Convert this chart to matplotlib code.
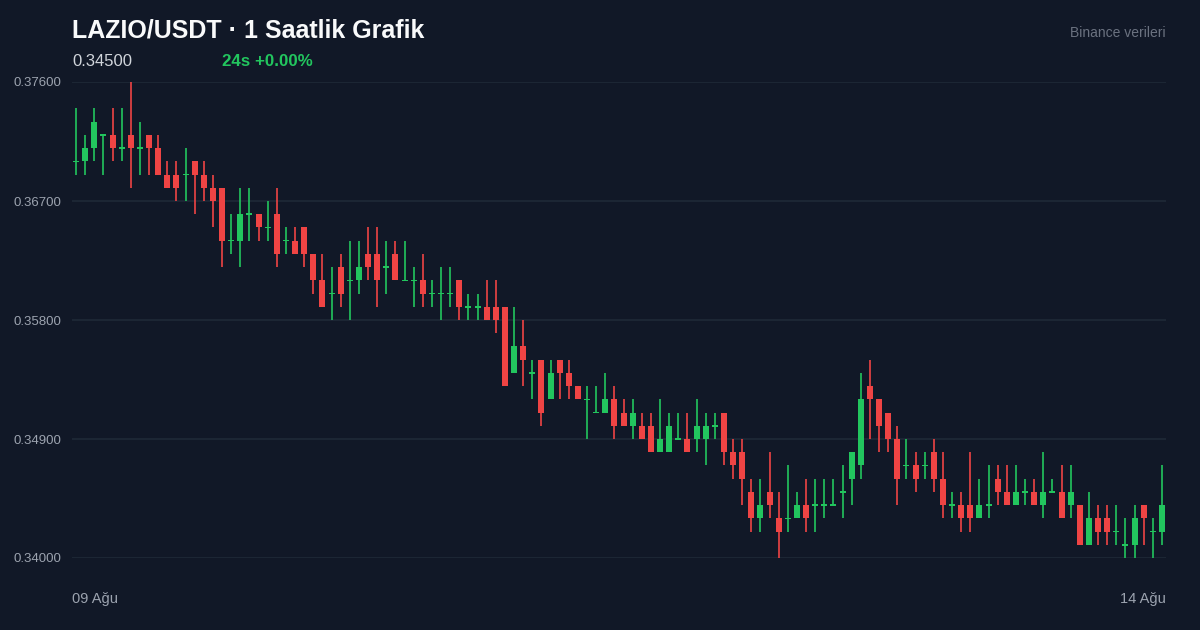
import numpy as np
import matplotlib.pyplot as plt

# Hourly OHLC candles, LAZIO/USDT
opens = [0.370, 0.370, 0.371, 0.372, 0.372, 0.371, 0.372, 0.371, 0.372, 0.371,
         0.369, 0.369, 0.369, 0.370, 0.369, 0.368, 0.368, 0.364, 0.364, 0.366,
         0.366, 0.365, 0.366, 0.364, 0.364, 0.365, 0.363, 0.361, 0.360, 0.362,
         0.361, 0.361, 0.363, 0.363, 0.362, 0.363, 0.361, 0.361, 0.361, 0.360,
         0.360, 0.360, 0.361, 0.359, 0.359, 0.359, 0.359, 0.359, 0.354, 0.356,
         0.354, 0.355, 0.352, 0.355, 0.354, 0.353, 0.352, 0.351, 0.351, 0.352,
         0.351, 0.350, 0.350, 0.350, 0.348, 0.348, 0.349, 0.349, 0.349, 0.349,
         0.350, 0.351, 0.348, 0.348, 0.345, 0.343, 0.345, 0.343, 0.343, 0.343,
         0.344, 0.344, 0.344, 0.344, 0.345, 0.346, 0.347, 0.353, 0.352, 0.351,
         0.349, 0.347, 0.347, 0.347, 0.348, 0.346, 0.344, 0.344, 0.344, 0.343,
         0.344, 0.346, 0.345, 0.344, 0.345, 0.345, 0.344, 0.345, 0.345, 0.344,
         0.344, 0.341, 0.343, 0.343, 0.342, 0.341, 0.341, 0.344, 0.342, 0.342]
highs = [0.374, 0.372, 0.374, 0.372, 0.374, 0.374, 0.376, 0.373, 0.372, 0.372,
         0.370, 0.370, 0.371, 0.370, 0.370, 0.369, 0.368, 0.366, 0.368, 0.368,
         0.366, 0.367, 0.368, 0.365, 0.365, 0.365, 0.363, 0.363, 0.362, 0.363,
         0.364, 0.364, 0.365, 0.365, 0.364, 0.364, 0.364, 0.362, 0.363, 0.361,
         0.362, 0.362, 0.361, 0.360, 0.360, 0.361, 0.361, 0.359, 0.359, 0.358,
         0.355, 0.355, 0.355, 0.355, 0.355, 0.353, 0.353, 0.353, 0.354, 0.353,
         0.352, 0.352, 0.351, 0.351, 0.352, 0.351, 0.351, 0.351, 0.352, 0.351,
         0.351, 0.351, 0.349, 0.349, 0.346, 0.346, 0.348, 0.345, 0.347, 0.345,
         0.346, 0.346, 0.346, 0.346, 0.347, 0.348, 0.354, 0.355, 0.352, 0.351,
         0.350, 0.349, 0.348, 0.348, 0.349, 0.348, 0.345, 0.345, 0.348, 0.346,
         0.347, 0.347, 0.347, 0.347, 0.346, 0.346, 0.348, 0.346, 0.347, 0.347,
         0.344, 0.345, 0.344, 0.344, 0.344, 0.343, 0.344, 0.344, 0.343, 0.347]
lows = [0.369, 0.369, 0.370, 0.369, 0.370, 0.370, 0.368, 0.369, 0.369, 0.369,
        0.368, 0.367, 0.367, 0.366, 0.367, 0.365, 0.362, 0.363, 0.362, 0.364,
        0.364, 0.364, 0.362, 0.363, 0.363, 0.362, 0.360, 0.359, 0.358, 0.359,
        0.358, 0.360, 0.361, 0.359, 0.360, 0.361, 0.361, 0.359, 0.359, 0.359,
        0.358, 0.359, 0.358, 0.358, 0.358, 0.358, 0.357, 0.353, 0.354, 0.353,
        0.352, 0.350, 0.352, 0.352, 0.352, 0.352, 0.349, 0.351, 0.351, 0.349,
        0.350, 0.349, 0.349, 0.348, 0.348, 0.348, 0.349, 0.348, 0.348, 0.347,
        0.349, 0.347, 0.346, 0.344, 0.342, 0.342, 0.343, 0.340, 0.342, 0.343,
        0.342, 0.342, 0.343, 0.344, 0.343, 0.344, 0.346, 0.349, 0.348, 0.348,
        0.344, 0.346, 0.345, 0.346, 0.345, 0.343, 0.343, 0.342, 0.342, 0.343,
        0.343, 0.344, 0.344, 0.344, 0.344, 0.344, 0.343, 0.345, 0.343, 0.343,
        0.341, 0.341, 0.341, 0.341, 0.341, 0.340, 0.340, 0.341, 0.340, 0.341]
closes = [0.370, 0.371, 0.373, 0.372, 0.371, 0.371, 0.371, 0.371, 0.371, 0.369,
          0.368, 0.368, 0.369, 0.369, 0.368, 0.367, 0.364, 0.364, 0.366, 0.366,
          0.365, 0.365, 0.363, 0.364, 0.363, 0.363, 0.361, 0.359, 0.360, 0.360,
          0.361, 0.362, 0.362, 0.361, 0.362, 0.361, 0.361, 0.361, 0.360, 0.360,
          0.360, 0.360, 0.359, 0.359, 0.359, 0.358, 0.358, 0.353, 0.356, 0.355,
          0.354, 0.351, 0.354, 0.354, 0.353, 0.352, 0.352, 0.351, 0.352, 0.350,
          0.350, 0.351, 0.349, 0.348, 0.349, 0.350, 0.349, 0.348, 0.350, 0.350,
          0.350, 0.348, 0.347, 0.346, 0.343, 0.344, 0.344, 0.342, 0.343, 0.344,
          0.343, 0.344, 0.344, 0.344, 0.345, 0.348, 0.352, 0.352, 0.350, 0.349,
          0.346, 0.347, 0.346, 0.347, 0.346, 0.344, 0.344, 0.343, 0.343, 0.344,
          0.344, 0.345, 0.344, 0.345, 0.345, 0.344, 0.345, 0.345, 0.343, 0.345,
          0.341, 0.343, 0.342, 0.342, 0.342, 0.341, 0.343, 0.343, 0.342, 0.344]

y_ticks = [0.340, 0.349, 0.358, 0.367, 0.376]
x_labels = ["09 Ağu", "14 Ağu"]

BG = "#111827"
GREEN = "#22c55e"
RED = "#ef4444"
GRID = "#1f2937"

plt.rcParams['font.family'] = ['Liberation Sans', 'DejaVu Sans']

W, H = 1200, 630
fig = plt.figure(figsize=(W / 100, H / 100), dpi=100, facecolor=BG)
ax = fig.add_axes([72 / W, (H - 558) / H, (1166 - 72) / W, (558 - 82) / H])
ax.set_facecolor(BG)

o = np.array(opens)
h = np.array(highs)
l = np.array(lows)
c = np.array(closes)
x = np.arange(len(o))
up = c >= o
colors = np.where(up, GREEN, RED)

# minimum body height so flat candles still show as a small bar
min_body = 0.00012
body_bottom = np.minimum(o, c)
body_height = np.abs(c - o)
flat = body_height < 1e-9
body_bottom = np.where(flat, o - min_body / 2, body_bottom)
body_height = np.where(flat, min_body, body_height)

ax.vlines(x, l, h, colors=colors, linewidth=1.2, zorder=2, clip_on=False)
ax.bar(x, body_height, bottom=body_bottom, width=0.66, color=colors,
       linewidth=0, zorder=3, clip_on=False)

ax.set_xlim(-0.45, len(o) - 0.55)
ax.set_ylim(0.340, 0.376)
ax.set_yticks(y_ticks)
ax.set_yticklabels([f"{v:.5f}" for v in y_ticks])
ax.set_xticks([])
ax.grid(axis='y', color=GRID, linewidth=1.2, zorder=0)
ax.tick_params(axis='y', length=0, pad=7.5, labelsize=9.5, labelcolor="#9ca3af")
for s in ax.spines.values():
    s.set_visible(False)

# header texts
fig.text(72 / W, 1 - 30 / H, "LAZIO/USDT · 1 Saatlik Grafik", color="#f9fafb",
         fontsize=18, fontweight='bold', va='center', ha='left')
fig.text(72 / W, 1 - 61 / H, "0.34500", color="#d1d5db", fontsize=12,
         va='center', ha='left')
fig.text(222 / W, 1 - 61 / H, "24s +0.00%", color=GREEN, fontsize=12.2,
         fontweight='bold', va='center', ha='left')
fig.text(1166 / W, 1 - 33 / H, "Binance verileri", color="#6b7280",
         fontsize=10, va='center', ha='right')

# date labels under the chart
fig.text(72 / W, 1 - 599 / H, x_labels[0], color="#9ca3af", fontsize=10.5,
         va='center', ha='left')
fig.text(1166 / W, 1 - 599 / H, x_labels[1], color="#9ca3af", fontsize=10.5,
         va='center', ha='right')

fig.savefig("out.png", dpi=100, facecolor=BG)
